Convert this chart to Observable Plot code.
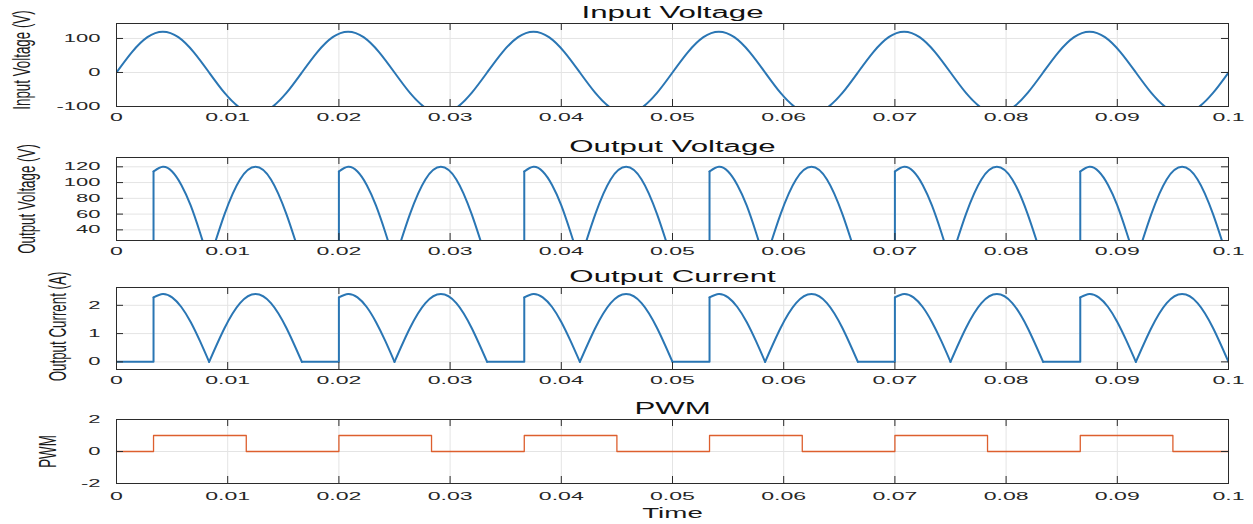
<!DOCTYPE html>
<html><head><meta charset="utf-8">
<script src="https://cdn.jsdelivr.net/npm/d3@7"></script>
<script src="https://cdn.jsdelivr.net/npm/@observablehq/plot@0.6"></script>
<style>
html,body{margin:0;padding:0;background:#fff;}
#chart{position:relative;width:1253px;height:524px;overflow:hidden;background:#fff;}
#chart svg{position:absolute;left:0;}
</style></head><body><div id="chart"></div>
<script>
// ---------------- DATA ----------------
const xTicks = [0, 0.01, 0.02, 0.03, 0.04, 0.05, 0.06, 0.07, 0.08, 0.09, 0.1];
const xTickLabels = ["0", "0.01", "0.02", "0.03", "0.04", "0.05", "0.06", "0.07", "0.08", "0.09", "0.1"];

// Input voltage (V), sampled every 30 degrees of a 60 Hz wave
const inTime = [0, 0.00139, 0.00278, 0.00417, 0.00556, 0.00694, 0.00833, 0.00972, 0.01111, 0.0125, 0.01389, 0.01528,
  0.01667, 0.01806, 0.01944, 0.02083, 0.02222, 0.02361, 0.025, 0.02639, 0.02778, 0.02917, 0.03056, 0.03194,
  0.03333, 0.03472, 0.03611, 0.0375, 0.03889, 0.04028, 0.04167, 0.04306, 0.04444, 0.04583, 0.04722, 0.04861,
  0.05, 0.05139, 0.05278, 0.05417, 0.05556, 0.05694, 0.05833, 0.05972, 0.06111, 0.0625, 0.06389, 0.06528,
  0.06667, 0.06806, 0.06944, 0.07083, 0.07222, 0.07361, 0.075, 0.07639, 0.07778, 0.07917, 0.08056, 0.08194,
  0.08333, 0.08472, 0.08611, 0.0875, 0.08889, 0.09028, 0.09167, 0.09306, 0.09444, 0.09583, 0.09722, 0.09861, 0.1];
const inVoltage = [0, 60, 104, 120, 104, 60, 0, -60, -104, -120, -104, -60,
  0, 60, 104, 120, 104, 60, 0, -60, -104, -120, -104, -60,
  0, 60, 104, 120, 104, 60, 0, -60, -104, -120, -104, -60,
  0, 60, 104, 120, 104, 60, 0, -60, -104, -120, -104, -60,
  0, 60, 104, 120, 104, 60, 0, -60, -104, -120, -104, -60,
  0, 60, 104, 120, 104, 60, 0, -60, -104, -120, -104, -60, 0];
const inTicks = [-100, 0, 100];
const inTickLabels = ["-100", "0", "100"];

// Output: off interval + firing edge (straight pieces), one piece per cycle
const switchTime = [0, 0.00333, 0.00333, 0.01667, 0.02, 0.02, 0.03333, 0.03667, 0.03667,
  0.05, 0.05333, 0.05333, 0.06667, 0.07, 0.07, 0.08333, 0.08667, 0.08667];
const switchVoltage = [0, 0, 114, 0, 0, 114, 0, 0, 114, 0, 0, 114, 0, 0, 114, 0, 0, 114];
const switchCurrent = [0, 0, 2.28, 0, 0, 2.28, 0, 0, 2.28, 0, 0, 2.28, 0, 0, 2.28, 0, 0, 2.28];
const switchPiece = [0, 0, 0, 1, 1, 1, 2, 2, 2, 3, 3, 3, 4, 4, 4, 5, 5, 5];

// Output: conducting humps (smooth pieces)
const humpTime = [
  0.00333, 0.00417, 0.005, 0.00583, 0.00667, 0.0075, 0.00833,
  0.00833, 0.00972, 0.01111, 0.0125, 0.01389, 0.01528, 0.01667,
  0.02, 0.02083, 0.02167, 0.0225, 0.02333, 0.02417, 0.025,
  0.025, 0.02639, 0.02778, 0.02917, 0.03056, 0.03194, 0.03333,
  0.03667, 0.0375, 0.03833, 0.03917, 0.04, 0.04083, 0.04167,
  0.04167, 0.04306, 0.04444, 0.04583, 0.04722, 0.04861, 0.05,
  0.05333, 0.05417, 0.055, 0.05583, 0.05667, 0.0575, 0.05833,
  0.05833, 0.05972, 0.06111, 0.0625, 0.06389, 0.06528, 0.06667,
  0.07, 0.07083, 0.07167, 0.0725, 0.07333, 0.07417, 0.075,
  0.075, 0.07639, 0.07778, 0.07917, 0.08056, 0.08194, 0.08333,
  0.08667, 0.0875, 0.08833, 0.08917, 0.09, 0.09083, 0.09167,
  0.09167, 0.09306, 0.09444, 0.09583, 0.09722, 0.09861, 0.1];
const humpVoltage = [
  114, 120, 114, 97, 71, 37, 0,   0, 60, 104, 120, 104, 60, 0,
  114, 120, 114, 97, 71, 37, 0,   0, 60, 104, 120, 104, 60, 0,
  114, 120, 114, 97, 71, 37, 0,   0, 60, 104, 120, 104, 60, 0,
  114, 120, 114, 97, 71, 37, 0,   0, 60, 104, 120, 104, 60, 0,
  114, 120, 114, 97, 71, 37, 0,   0, 60, 104, 120, 104, 60, 0,
  114, 120, 114, 97, 71, 37, 0,   0, 60, 104, 120, 104, 60, 0];
const humpCurrent = [
  2.28, 2.4, 2.28, 1.94, 1.41, 0.74, 0,   0, 1.2, 2.08, 2.4, 2.08, 1.2, 0,
  2.28, 2.4, 2.28, 1.94, 1.41, 0.74, 0,   0, 1.2, 2.08, 2.4, 2.08, 1.2, 0,
  2.28, 2.4, 2.28, 1.94, 1.41, 0.74, 0,   0, 1.2, 2.08, 2.4, 2.08, 1.2, 0,
  2.28, 2.4, 2.28, 1.94, 1.41, 0.74, 0,   0, 1.2, 2.08, 2.4, 2.08, 1.2, 0,
  2.28, 2.4, 2.28, 1.94, 1.41, 0.74, 0,   0, 1.2, 2.08, 2.4, 2.08, 1.2, 0,
  2.28, 2.4, 2.28, 1.94, 1.41, 0.74, 0,   0, 1.2, 2.08, 2.4, 2.08, 1.2, 0];
const humpPiece = [
  0,0,0,0,0,0,0, 1,1,1,1,1,1,1, 2,2,2,2,2,2,2, 3,3,3,3,3,3,3,
  4,4,4,4,4,4,4, 5,5,5,5,5,5,5, 6,6,6,6,6,6,6, 7,7,7,7,7,7,7,
  8,8,8,8,8,8,8, 9,9,9,9,9,9,9, 10,10,10,10,10,10,10, 11,11,11,11,11,11,11];

const voltTicks = [40, 60, 80, 100, 120];
const voltTickLabels = ["40", "60", "80", "100", "120"];
const currTicks = [0, 1, 2];
const currTickLabels = ["0", "1", "2"];

// PWM gate signal
const pwmTime = [0, 0.00333, 0.01167, 0.02, 0.02833, 0.03667, 0.045, 0.05333, 0.06167, 0.07, 0.07833, 0.08667, 0.095, 0.1];
const pwmValue = [0, 1, 0, 1, 0, 1, 0, 1, 0, 1, 0, 1, 0, 0];
const pwmTicks = [-2, 0, 2];
const pwmTickLabels = ["-2", "0", "2"];

const titles = ["Input Voltage", "Output Voltage", "Output Current", "PWM"];
const yLabels = ["Input Voltage (V)", "Output Voltage (V)", "Output Current (A)", "PWM"];
const xLabel = "Time";

// ---------------- TABLES ----------------
const inRows = inTime.map((t, i) => ({t, v: inVoltage[i]}));
const switchRows = switchTime.map((t, i) => ({t, v: switchVoltage[i], c: switchCurrent[i], p: switchPiece[i]}));
const humpRows = humpTime.map((t, i) => ({t, v: humpVoltage[i], c: humpCurrent[i], p: humpPiece[i]}));
const pwmRows = pwmTime.map((t, i) => ({t, v: pwmValue[i]}));

// ---------------- LAYOUT ----------------
const W = 1253, ML = 116, MR = 25, FW = W - ML - MR;
const FONT = "'Liberation Sans', Arial, Helvetica, sans-serif";
const GRID = "#e4e4e4", AX = "#2b2b2b", TL = 7;
const BLUE = "#2a76b4", ORANGE = "#dd5f2e";

function panel({title, yLabel, yLabelX, yLabelDy, domain, yTicks, yTickLabels, frameTop, frameH, tickPad, marks, extra}) {
  const mt = 30, mb = 30 + (extra ? 20 : 0);
  const svg = Plot.plot({
    width: W, height: mt + frameH + mb,
    marginTop: mt, marginBottom: mb, marginLeft: ML, marginRight: MR,
    style: {fontFamily: FONT, fontSize: "11px", color: "#262626", background: "transparent", overflow: "visible"},
    x: {domain: [0, 0.1]},
    y: {domain},
    marks: [
      Plot.gridX(xTicks, {stroke: GRID, strokeOpacity: 1}),
      Plot.gridY(yTicks, {stroke: GRID, strokeOpacity: 1}),
      ...marks,
      Plot.ruleX(xTicks, {insetTop: frameH - TL, stroke: AX}),
      Plot.ruleX(xTicks, {insetBottom: frameH - TL, stroke: AX}),
      Plot.ruleY(yTicks, {insetRight: FW - TL, stroke: AX}),
      Plot.ruleY(yTicks, {insetLeft: FW - TL, stroke: AX}),
      Plot.frame({stroke: AX}),
      Plot.axisX(xTicks, {tickSize: 0, tickPadding: tickPad, tickFormat: d => xTickLabels[xTicks.indexOf(d)], label: null}),
      Plot.axisY(yTicks, {tickSize: 0, tickPadding: 16, tickFormat: d => yTickLabels[yTicks.indexOf(d)], label: null}),
      Plot.text([title], {text: d => d, frameAnchor: "top", dy: -5.5, lineAnchor: "bottom", fontSize: 16, fill: "#111"}),
      Plot.text([yLabel], {text: d => d, frameAnchor: "left", dx: yLabelX - ML, dy: yLabelDy, rotate: -90, lineAnchor: "bottom", textAnchor: "middle", fontSize: 23, fill: "#1a1a1a"}),
      ...(extra ? [Plot.text([xLabel], {text: d => d, frameAnchor: "bottom", dy: 34, lineAnchor: "bottom", fontSize: 15, fill: "#1a1a1a"})] : [])
    ]
  });
  svg.style.top = (frameTop - mt) + "px";
  return svg;
}

const chart = document.getElementById("chart");
const svgs = [
  panel({title: titles[0], yLabel: yLabels[0], yLabelX: 29, yLabelDy: -5, domain: [-100, 144], yTicks: inTicks, yTickLabels: inTickLabels,
    frameTop: 23, frameH: 83, tickPad: 6.5,
    marks: [Plot.line(inRows, {x: "t", y: "v", curve: "natural", stroke: BLUE, strokeWidth: 2, clip: true})]}),
  panel({title: titles[1], yLabel: yLabels[1], yLabelX: 34, yLabelDy: 0, domain: [26.5, 131.8], yTicks: voltTicks, yTickLabels: voltTickLabels,
    frameTop: 157, frameH: 83, tickPad: 6.5,
    marks: [
      Plot.line(switchRows, {x: "t", y: "v", z: "p", stroke: BLUE, strokeWidth: 2, clip: true}),
      Plot.line(humpRows, {x: "t", y: "v", z: "p", curve: "natural", stroke: BLUE, strokeWidth: 2, clip: true})]}),
  panel({title: titles[2], yLabel: yLabels[2], yLabelX: 65, yLabelDy: -2, domain: [-0.27, 2.63], yTicks: currTicks, yTickLabels: currTickLabels,
    frameTop: 287, frameH: 82, tickPad: 6.5,
    marks: [
      Plot.line(switchRows, {x: "t", y: "c", z: "p", stroke: BLUE, strokeWidth: 2, clip: true}),
      Plot.line(humpRows, {x: "t", y: "c", z: "p", curve: "natural", stroke: BLUE, strokeWidth: 2, clip: true})]}),
  panel({title: titles[3], yLabel: yLabels[3], yLabelX: 55, yLabelDy: 0, domain: [-2, 2], yTicks: pwmTicks, yTickLabels: pwmTickLabels,
    frameTop: 419, frameH: 64, tickPad: 8.5, extra: true,
    marks: [Plot.line(pwmRows, {x: "t", y: "v", curve: "step-after", stroke: ORANGE, strokeWidth: 1.3})]})
];
svgs.forEach(s => chart.appendChild(s));

// horizontal stretching of text, as in the reference picture (scale along the baseline)
function stretch(t, f) {
  const tr = t.getAttribute("transform");
  if (tr) {
    t.setAttribute("transform", `${tr} scale(${f},1)`);
  } else {
    const len = t.getComputedTextLength();
    if (len > 0) {
      t.setAttribute("textLength", (len * f).toFixed(2));
      t.setAttribute("lengthAdjust", "spacingAndGlyphs");
    }
  }
}
svgs.forEach(svg => {
  svg.querySelectorAll("text").forEach(t => {
    const g = t.closest("g");
    const lab = g ? (g.getAttribute("aria-label") || "") : "";
    const s = t.textContent;
    const tr = t.getAttribute("transform") || "";
    if (lab.includes("x-axis")) stretch(t, 2.1);
    else if (lab.includes("y-axis")) stretch(t, 2.0);
    else if (yLabels.includes(s) && tr.includes("rotate")) stretch(t, 0.58);
    else if (s === xLabel) stretch(t, 1.85);
    else if (titles.includes(s)) stretch(t, 1.95);
  });
});
</script></body></html>
